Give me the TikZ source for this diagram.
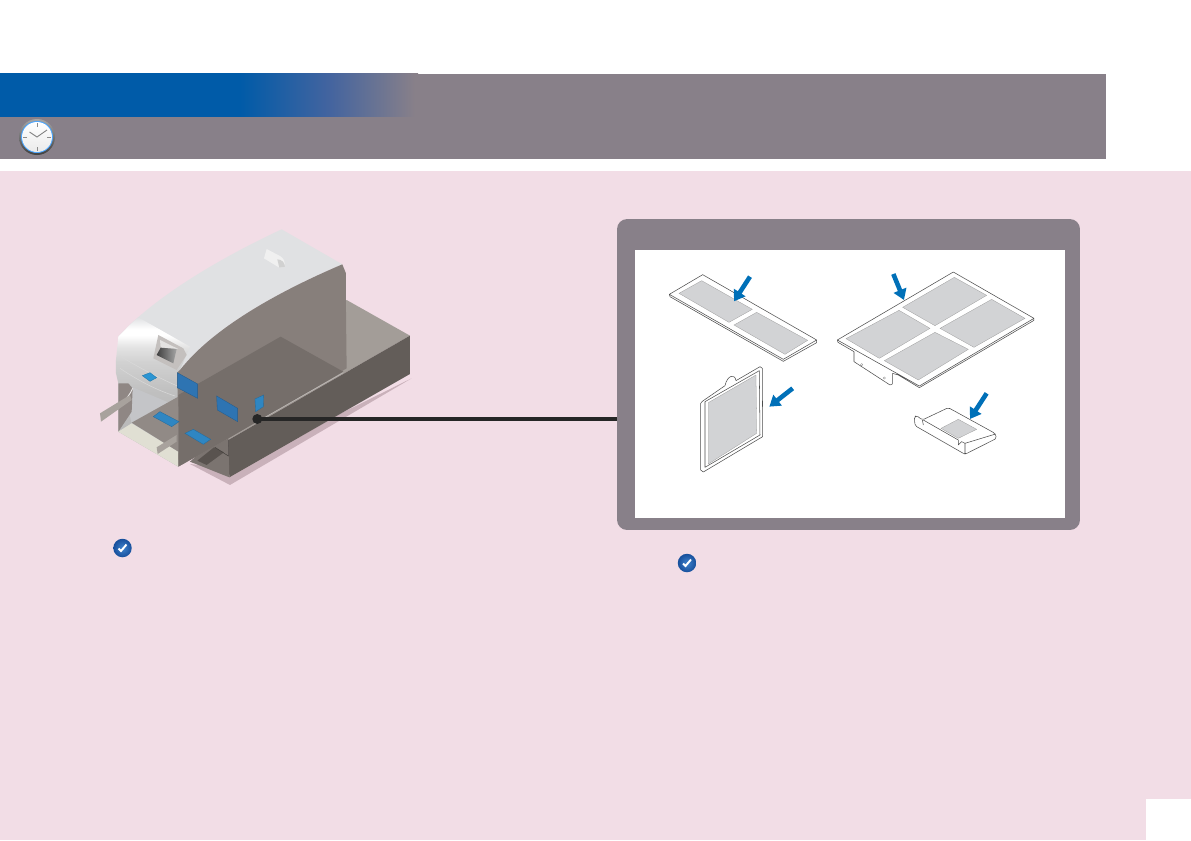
\documentclass[tikz,border=0pt]{standalone}
\usepackage{xcolor}
\usetikzlibrary{arrows.meta, positioning, calc}

\definecolor{pagepink}{HTML}{F2DDE6}
\definecolor{bargray}{HTML}{888089}
\definecolor{barblue}{HTML}{005BA8}
\definecolor{barmid}{HTML}{44649F}
\definecolor{arrowblue}{HTML}{0070B8}
\definecolor{holegray}{HTML}{D2D3D5}
\definecolor{shelltop}{HTML}{E0E1E3}
\definecolor{shellside}{HTML}{877F7B}
\definecolor{overlayside}{HTML}{756E6A}
\definecolor{overlayfront}{HTML}{918A86}
\definecolor{interiorgray}{HTML}{C4C5C8}
\definecolor{pillargray}{HTML}{8F8784}
\definecolor{traycream}{HTML}{E0DFD3}
\definecolor{armgray}{HTML}{A8A29D}
\definecolor{basetop}{HTML}{A39D98}
\definecolor{baseside}{HTML}{635D59}
\definecolor{baseleft}{HTML}{7B7470}
\definecolor{basedark}{HTML}{59534F}
\definecolor{baseshadow}{HTML}{C9B1BA}
\definecolor{bezelgray}{HTML}{C4C0BE}
\definecolor{spotdeep}{HTML}{2E74B2}
\definecolor{spotmid}{HTML}{2F86C2}
\definecolor{spotlight}{HTML}{2B95D3}
\definecolor{checklight}{HTML}{3F82CC}
\definecolor{checkdark}{HTML}{174F9C}

\pgfdeclarehorizontalshading{barfade}{100bp}{color(0bp)=(barblue); color(53.7bp)=(barblue); color(64.5bp)=(barmid); color(74.6bp)=(bargray); color(100bp)=(bargray)}
\pgfdeclareverticalshading{shellfront}{100bp}{color(0bp)=(black!30); color(25bp)=(black!30); color(50bp)=(black!25); color(60bp)=(black!18); color(65bp)=(black!11); color(69bp)=(white); color(71bp)=(white); color(75bp)=(shelltop); color(100bp)=(shelltop)}

\begin{document}
\begin{tikzpicture}[
        x=0.02cm, y=-0.02cm,
        panelbox/.style={rectangle, fill=bargray, rounded corners=0.2cm, minimum width=9.26cm, minimum height=6.22cm, inner sep=0pt},
        windowbox/.style={rectangle, fill=white, minimum width=8.6cm, minimum height=5.36cm, inner sep=0pt},
        leaderdot/.style={circle, fill=black!85, minimum size=0.2cm, inner sep=0pt},
        leaderline/.style={line width=2.2pt, draw=black!85},
        pointer/.style={-{Triangle[length=6pt,width=7.5pt]}, line width=2.6pt, draw=arrowblue},
        filterline/.style={draw=black!70, line width=0.3pt, fill=white, line join=round},
        filterhole/.style={draw=black!40, line width=0.15pt, fill=holegray},
        patch/.style={fill=#1, draw=#1!80!black, line width=0.2pt},
        checkball/.style={circle, inner color=checklight, outer color=checkdark, minimum size=0.37cm, inner sep=0pt}
    ]

        \useasboundingbox (0,0) rectangle (1191,840);
        \fill[white] (0,0) rectangle (1191,840);

        % header and page
        \fill[bargray] (0,74) rectangle (1106,159);
        \shade[shading=barfade] (0,73) rectangle (418,116.6);
        \fill[pagepink] (0,171) rectangle (1191,840);
        \fill[white] (1146,799) rectangle (1191,840);

        % clock
        \begin{scope}[shift={(37,137)}]
            \shade[top color=black!35, bottom color=black!75] (0,0) circle (18);
            \fill[blue!50!cyan!70] (0,0) circle (16);
            \shade[top color=white, bottom color=black!8] (0,0) circle (15);
            \foreach \a in {0,90,180,270} {
                \draw[black!45, line width=0.4pt] (\a:10) -- (\a:14);
            }
            \draw[black!50, line width=0.5pt] (-7.5,-5) -- (0,0) -- (10,-7);
        \end{scope}

        % machine, traced on a 3x grid
        \begin{scope}[shift={(90,220)}, scale=0.3333]
            \fill[baseshadow] (965,475) -- (420,795) -- (300,732) -- (420,745) -- cycle;
            \fill[basetop] (770,240) -- (960,347) -- (415,660) -- (300,600) -- cycle;
            \fill[baseside] (960,347) -- (960,462) -- (418,772) -- (415,660) -- cycle;
            \fill[baseleft] (300,725) -- (418,772) -- (415,655) -- (340,690) -- cycle;
            \fill[basedark] (322,722) -- (372,682) -- (402,697) -- (350,735) -- cycle;
            \draw[baseside!70!black, line width=0.3pt] (375,682) -- (415,708) -- (415,660);

            % shell
            \fill[shelltop] (85,350) .. controls (120,310) and (250,180) .. (575,28) -- (757,133)
                .. controls (600,200) and (380,310) .. (270,450) -- cycle;
            \shade[shading=shellfront] (85,350) -- (118,316) -- (145,292) -- (300,380) -- (270,450)
                -- (265,740) -- (85,635) -- (85,490) -- (78,460) -- (78,420) -- cycle;
            \fill[shellside] (757,133) .. controls (600,200) and (380,310) .. (270,450) -- (262,458) -- (265,740)
                -- (415,655) -- (770,445) -- (768,270) -- (768,160) -- cycle;
            \draw[black!15, line width=0.3pt] (90,408) .. controls (150,445) and (210,475) .. (262,498);
            \draw[black!15, line width=0.3pt] (90,445) .. controls (150,485) and (200,510) .. (255,528);

            % slot with tray
            \fill[interiorgray] (100,490) -- (265,560) -- (265,700) -- (125,612) -- cycle;
            \fill[pillargray] (85,490) -- (115,490) -- (128,505) -- (125,575) -- (85,635) -- cycle;
            \draw[white!80!pillargray, line width=0.5pt] (128,505) .. controls (120,525) and (110,530) .. (105,545);
            \fill[traycream] (85,635) -- (125,610) -- (265,695) -- (265,740) -- cycle;

            % translucent block
            \fill[overlayfront] (125,608) -- (265,530) -- (265,695) -- cycle;
            \fill[overlayside] (265,525) -- (572,350) -- (760,455) -- (415,655) -- (265,740) -- cycle;
            \draw[basetop!70!white, line width=0.3pt] (500,606) -- (760,458);

            % arms
            \fill[armgray] (30,580) -- (120,525) -- (125,540) -- (33,605) -- cycle;
            \fill[armgray] (200,682) -- (260,645) -- (260,665) -- (203,702) -- cycle;

            % display
            \fill[bezelgray] (205,345) -- (280,385) -- (290,405) -- (260,450) -- (190,415) -- cycle;
            \fill[white!55!bezelgray] (210,360) -- (265,387) -- (212,383) -- cycle;
            \shade[left color=black!75, right color=black!35] (200,405) -- (212,383) -- (260,387) -- (250,430) -- cycle;

            % knob
            \fill[black!6] (530,87) -- (570,108) .. controls (582,115) and (585,125) .. (585,140) -- (568,143) -- (522,115) -- cycle;
            \fill[black!18] (562,118) .. controls (575,118) and (585,128) .. (585,140) -- (568,143) -- cycle;

            % marked spots
            \filldraw[patch=spotdeep] (262,458) -- (323,492) -- (323,535) -- (262,503) -- cycle;
            \filldraw[patch=spotdeep] (380,528) -- (443,565) -- (443,605) -- (382,570) -- cycle;
            \filldraw[patch=spotmid] (495,537) -- (521,525) -- (520,560) -- (497,575) -- cycle;
            \filldraw[patch=spotlight] (157,467) -- (180,458) -- (200,473) -- (180,484) -- cycle;
            \filldraw[patch=spotmid] (190,590) -- (210,575) -- (267,605) -- (245,620) -- cycle;
            \filldraw[patch=spotmid] (285,640) -- (310,628) -- (362,658) -- (340,673) -- cycle;
        \end{scope}

        \node[panelbox] (filterpanel) at (848.5,374.5) {};
        \node[windowbox] (filterwindow) at (850,384) {};
        \node[leaderdot] (leaderpoint) at (257.3,419) {};
        \draw[leaderline] (leaderpoint.center) -- (leaderpoint.center -| filterpanel.west);

        % long filter and square filter
        \begin{scope}[shift={(650,260)}, scale=0.3333]
            \draw[filterline] (58,103) -- (60,110) -- (400,304) -- (500,248) -- (500,240) -- (400,298) -- (58,103) -- (158,44) -- (500,240);
            \draw[filterhole] (87,100) -- (155,62) -- (307,148) -- (237,187) -- cycle;
            \draw[filterhole] (252,195) -- (320,157) -- (473,241) -- (405,283) -- cycle;
            \coordinate (longstart) at (300,50);
            \coordinate (longend) at (252,124);
            \draw[pointer] (longstart) -- (longend);

            \draw[filterline] (152,430) -- (157,424) -- (225,377) .. controls (232,345) and (255,340) .. (258,362)
                -- (330,320) -- (337,325) -- (338,530) -- (160,636) -- (152,630) -- cycle;
            \draw[filterline] (165,425) -- (328,332) -- (330,525) -- (165,622) -- cycle;
            \draw[filterhole] (175,428) -- (318,345) -- (320,520) -- (175,612) -- cycle;
            \coordinate (squarestart) at (428,385);
            \coordinate (squareend) at (358,440);
            \draw[pointer] (squarestart) -- (squareend);
        \end{scope}

        % wide filter and small tray
        \begin{scope}[shift={(830,260)}, scale=0.3333]
            \fill[white] (72,268) -- (72,305) -- (180,375) -- (187,372) -- (187,333) -- cycle;
            \draw[filterline, fill=none] (72,275) -- (72,305) -- (180,375) -- (187,372) -- (187,340);
            \fill[black!60] (95,314) circle (4) (163,354) circle (4);
            \fill[white] (95,314) circle (2.5) (163,354) circle (2.5);
            \draw[filterline] (22,240) -- (24,247) -- (72,275);
            \draw[filterline] (187,340) -- (205,345) -- (268,383) -- (612,181) -- (612,175) -- (268,378) -- (22,240) -- (370,36) -- (612,175);
            \draw[filterhole] (48,236) -- (207,151) -- (300,205) -- (148,295) -- cycle;
            \draw[filterhole] (218,142) -- (373,52) -- (470,106) -- (315,197) -- cycle;
            \draw[filterhole] (330,205) -- (485,118) -- (585,175) -- (432,262) -- cycle;
            \draw[filterhole] (163,302) -- (315,217) -- (415,268) -- (265,360) -- cycle;
            \coordinate (widestart) at (190,42);
            \coordinate (wideend) at (222,120);
            \draw[pointer] (widestart) -- (wideend);

            \draw[filterline, rounded corners=1pt] (253,470) -- (260,467) -- (277,480) -- (355,443) -- (495,520) -- (500,535) -- (405,583) -- (255,497) -- cycle;
            \draw[filterline, fill=none] (277,480) -- (280,495);
            \draw[filterline, fill=none] (280,480) -- (385,540) -- (385,555) -- (395,545) -- (405,550) -- (405,583);
            \draw[filterline, fill=none] (405,550) -- (497,522);
            \draw[filterhole] (333,505) -- (385,478) -- (440,508) -- (385,535) -- cycle;
            \coordinate (traystart) at (470,400);
            \coordinate (trayend) at (420,477);
            \draw[pointer] (traystart) -- (trayend);
        \end{scope}

        % check marks
        \node[checkball] (checkleft) at (122.5,548) {};
        \node[checkball] (checkright) at (687,563) {};
        \foreach \c in {checkleft, checkright} {
            \draw[white, line width=1.1pt] ($(\c.center)+(-4,0.5)$) -- ($(\c.center)+(-1.5,3)$) -- ($(\c.center)+(4,-3.5)$);
        }

    \end{tikzpicture}
\end{document}
